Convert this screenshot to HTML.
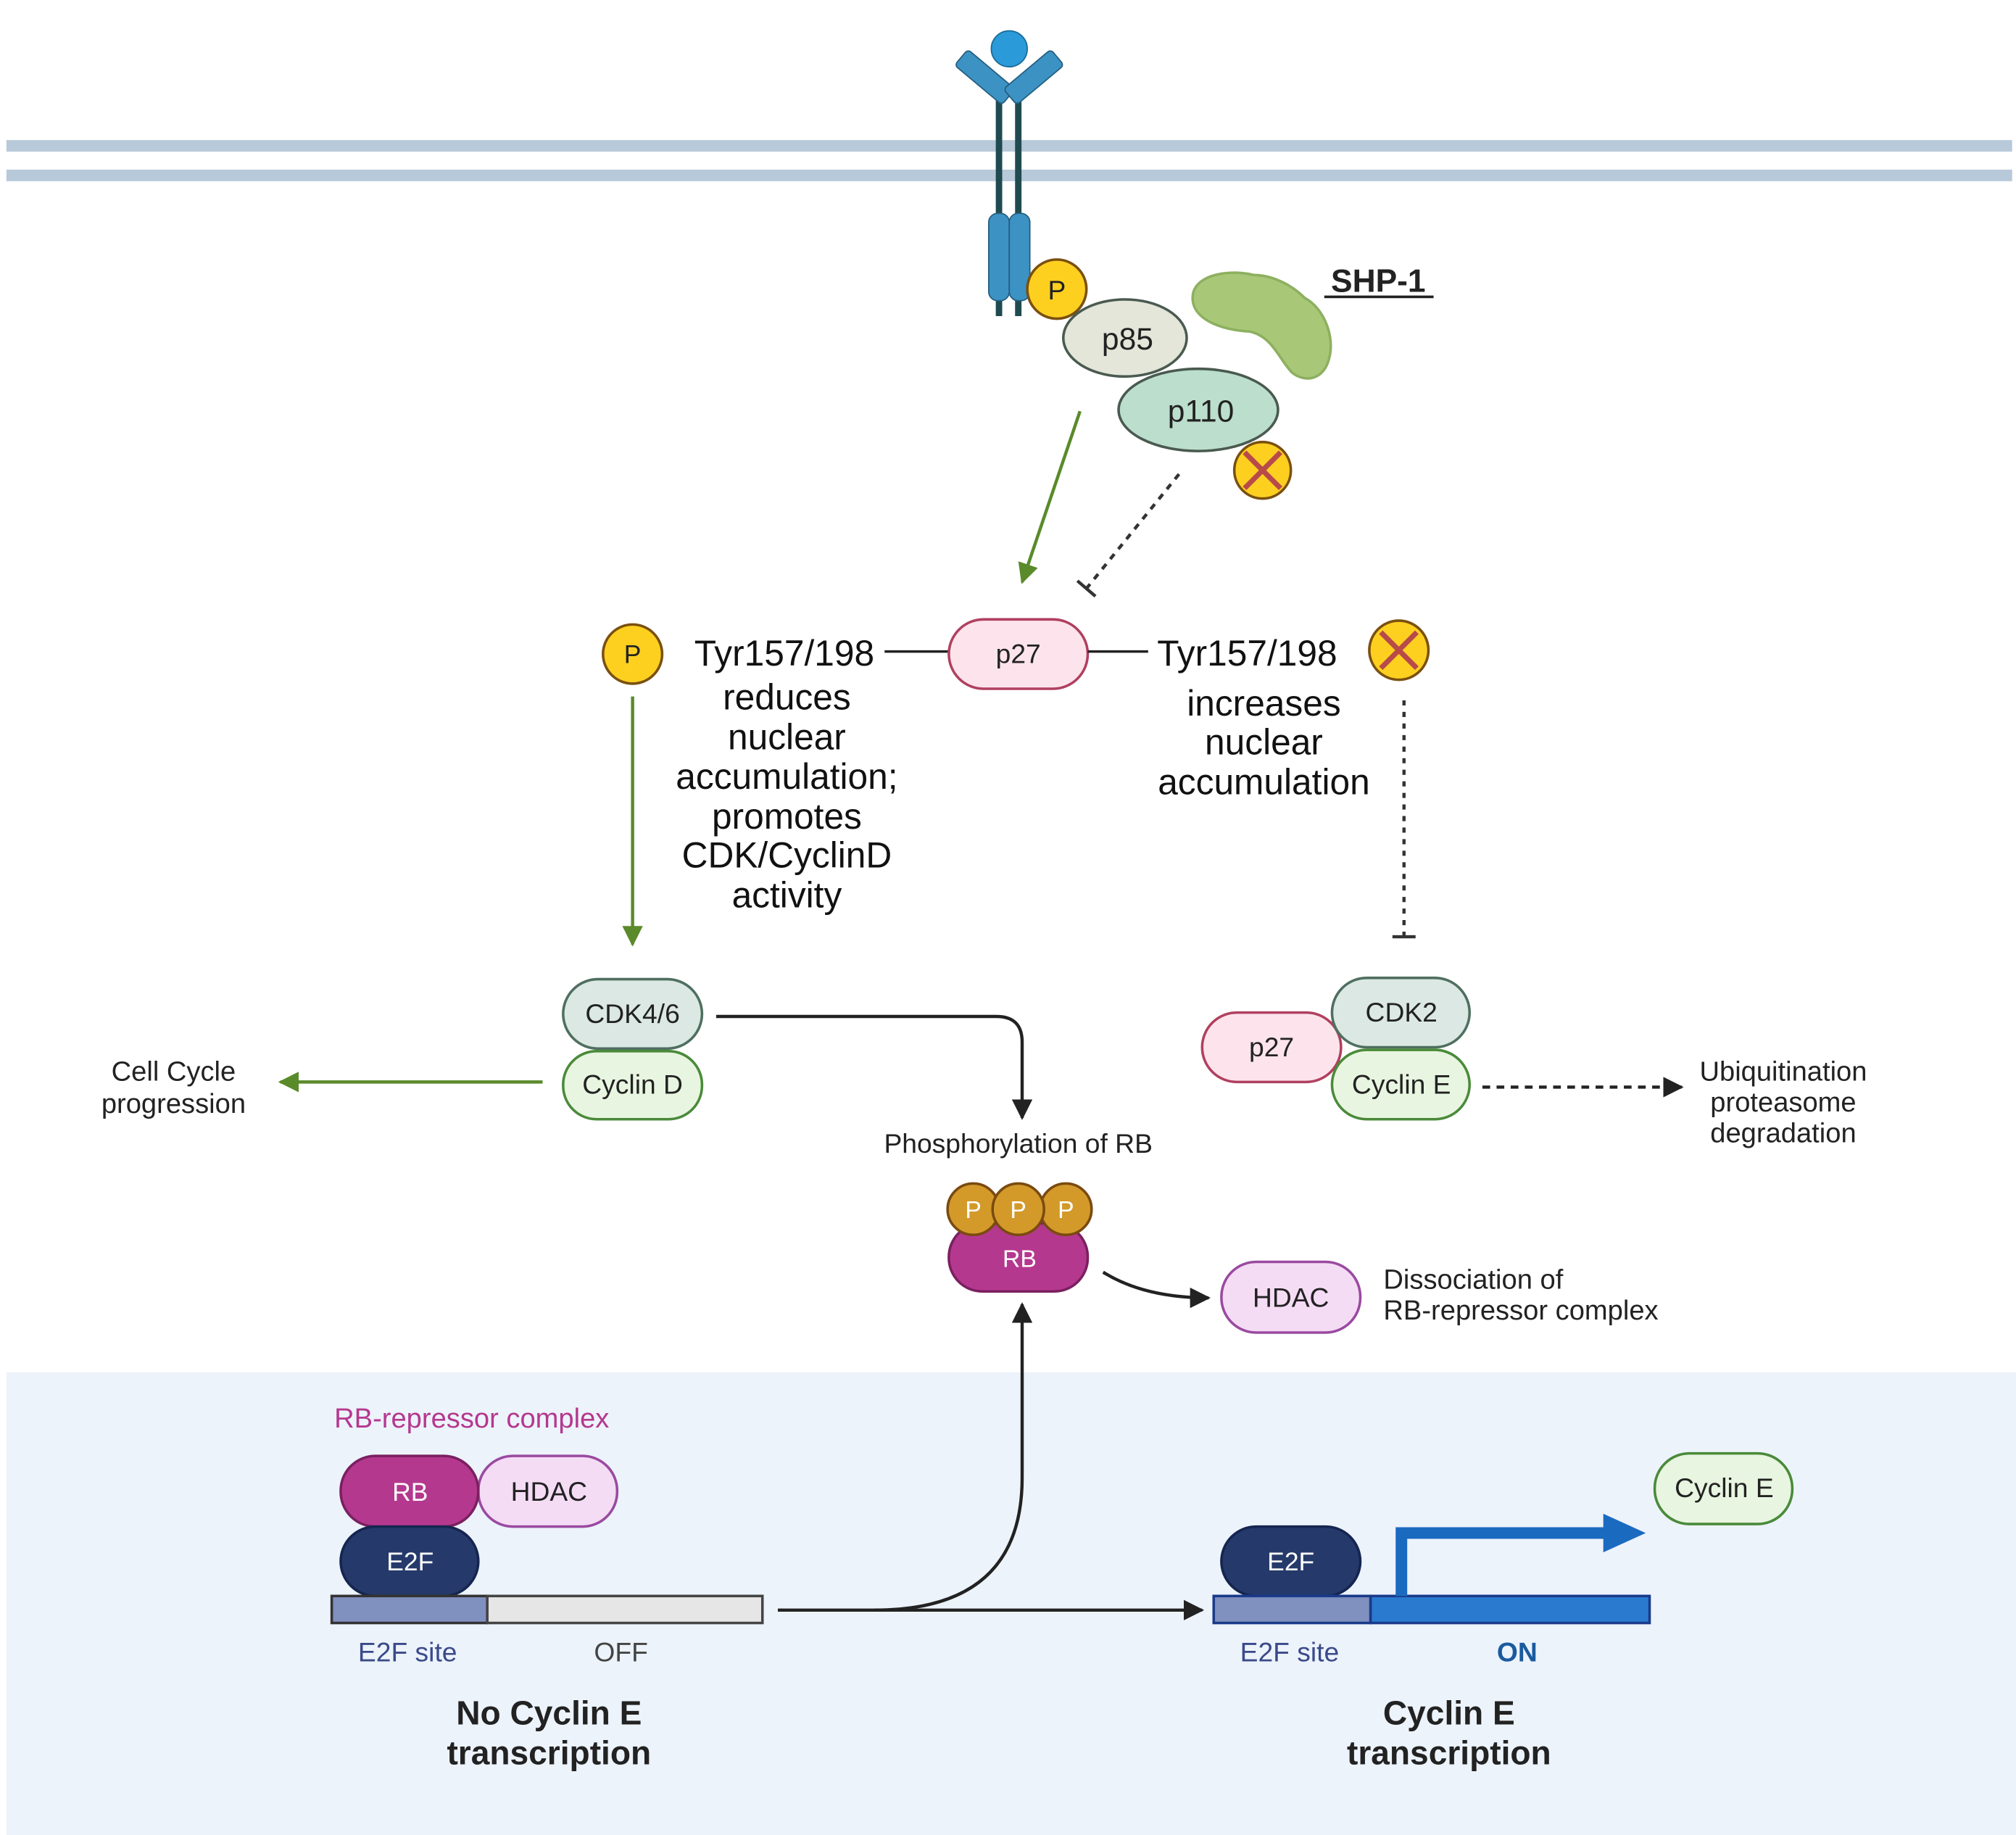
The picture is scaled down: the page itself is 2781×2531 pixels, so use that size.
<!DOCTYPE html>
<html><head><meta charset="utf-8">
<style>
html,body{margin:0;padding:0;background:#fff;}
svg{display:block;}
text{font-family:"Liberation Sans",sans-serif;}
</style></head>
<body>
<svg width="2781" height="2531" viewBox="0 0 1568 1428" preserveAspectRatio="none" xmlns="http://www.w3.org/2000/svg">
<defs>
<marker id="ab" viewBox="0 0 10 10" markerWidth="16" markerHeight="16" refX="9" refY="5" orient="auto" markerUnits="userSpaceOnUse"><path d="M0,0 L10,5 L0,10 z" fill="#222"/></marker>
<marker id="ag" viewBox="0 0 10 10" markerWidth="16" markerHeight="16" refX="9" refY="5" orient="auto" markerUnits="userSpaceOnUse"><path d="M0,0 L10,5 L0,10 z" fill="#5a8a2a"/></marker>
</defs>
<rect width="1568" height="1428" fill="#fff"/>
<rect x="5" y="1068" width="1563" height="360" fill="#ecf3fb"/>
<rect x="5" y="109" width="1560" height="9" fill="#b8c9d9"/>
<rect x="5" y="132" width="1560" height="9" fill="#b8c9d9"/>
<line x1="777" y1="70" x2="777" y2="246" stroke="#1f4a50" stroke-width="5"/>
<line x1="792" y1="70" x2="792" y2="246" stroke="#1f4a50" stroke-width="5"/>
<rect x="742" y="52" width="48" height="16" rx="3" fill="#3d92c4" stroke="#245f80" transform="rotate(40 766 60)"/>
<rect x="780" y="52" width="48" height="16" rx="3" fill="#3d92c4" stroke="#245f80" transform="rotate(-40 804 60)"/>
<circle cx="785" cy="38" r="14" fill="#2a9ad8" stroke="#1b6a98"/>
<rect x="769" y="166" width="16" height="68" rx="7" fill="#3d92c4" stroke="#245f80"/>
<rect x="785" y="166" width="16" height="68" rx="7" fill="#3d92c4" stroke="#245f80"/>
<circle cx="822" cy="225" r="23" fill="#fdd020" stroke="#7a5010" stroke-width="2"/>
<text x="822" y="233" font-size="21" text-anchor="middle" fill="#222">P</text>
<path d="M928,228 C932,212 960,210 975,214 C990,214 1005,222 1015,232 C1030,240 1038,262 1034,278 C1030,296 1015,298 1005,290 C995,280 990,262 972,258 C950,257 924,248 928,228 Z" fill="#a8c878" stroke="#8db060" stroke-width="2"/>
<text x="1072" y="227" font-size="25" font-weight="bold" text-anchor="middle" fill="#222">SHP-1</text>
<line x1="1030" y1="231" x2="1115" y2="231" stroke="#222" stroke-width="2"/>
<ellipse cx="875" cy="263" rx="48" ry="30" fill="#e3e6d9" stroke="#4a5a50" stroke-width="2"/>
<text x="877" y="272" font-size="24" text-anchor="middle" fill="#222">p85</text>
<ellipse cx="932" cy="319" rx="62" ry="32" fill="#bcdecd" stroke="#4a5a50" stroke-width="2"/>
<text x="934" y="328" font-size="24" text-anchor="middle" fill="#222">p110</text>
<circle cx="982" cy="366" r="22" fill="#fdd020" stroke="#7a5010" stroke-width="2"/>
<path d="M968,352 L996,380 M996,352 L968,380" stroke="#b84a4a" stroke-width="4"/>
<line x1="840" y1="320" x2="795" y2="453" stroke="#5a8a2a" stroke-width="2.5" marker-end="url(#ag)"/>
<line x1="917" y1="369" x2="845" y2="458" stroke="#333" stroke-width="2.5" stroke-dasharray="5,5"/>
<line x1="838" y1="452" x2="852" y2="464" stroke="#333" stroke-width="2.5"/>
<circle cx="492" cy="509" r="23" fill="#fdd020" stroke="#7a5010" stroke-width="2"/>
<text x="492" y="516" font-size="20" text-anchor="middle" fill="#222">P</text>
<text x="610" y="518" font-size="28" text-anchor="middle" fill="#111">Tyr157/198</text>
<line x1="688" y1="507" x2="738" y2="507" stroke="#222" stroke-width="2"/>
<rect x="738" y="482" width="108" height="54" rx="27" fill="#fde4ec" stroke="#b04060" stroke-width="2"/>
<text x="792" y="516" font-size="21" text-anchor="middle" fill="#222">p27</text>
<line x1="846" y1="507" x2="893" y2="507" stroke="#222" stroke-width="2"/>
<text x="970" y="518" font-size="28" text-anchor="middle" fill="#111">Tyr157/198</text>
<circle cx="1088" cy="506" r="23" fill="#fdd020" stroke="#7a5010" stroke-width="2"/>
<path d="M1074,492 L1102,520 M1102,492 L1074,520" stroke="#b84a4a" stroke-width="4"/>
<g font-size="28" text-anchor="middle" fill="#111">
<text x="612" y="552">reduces</text><text x="612" y="583">nuclear</text><text x="612" y="614">accumulation;</text>
<text x="612" y="645">promotes</text><text x="612" y="675">CDK/CyclinD</text><text x="612" y="706">activity</text>
<text x="983" y="557">increases</text><text x="983" y="587">nuclear</text><text x="983" y="618">accumulation</text>
</g>
<line x1="492" y1="542" x2="492" y2="735" stroke="#5a8a2a" stroke-width="2.5" marker-end="url(#ag)"/>
<line x1="1092" y1="545" x2="1092" y2="728" stroke="#333" stroke-width="2.5" stroke-dasharray="4,5"/>
<line x1="1083" y1="729" x2="1101" y2="729" stroke="#333" stroke-width="2.5"/>
<rect x="438" y="762" width="108" height="54" rx="27" fill="#dbe8e3" stroke="#4f6f60" stroke-width="2"/>
<text x="492" y="796" font-size="21" text-anchor="middle" fill="#222">CDK4/6</text>
<rect x="438" y="818" width="108" height="53" rx="26" fill="#e8f5e0" stroke="#4a8a3a" stroke-width="2"/>
<text x="492" y="851" font-size="21" text-anchor="middle" fill="#222">Cyclin D</text>
<line x1="422" y1="842" x2="218" y2="842" stroke="#5a8a2a" stroke-width="2.5" marker-end="url(#ag)"/>
<text x="135" y="841" font-size="21.5" text-anchor="middle" fill="#222">Cell Cycle</text>
<text x="135" y="866" font-size="21.5" text-anchor="middle" fill="#222">progression</text>
<path d="M557,791 L775,791 Q795,791 795,811 L795,870" fill="none" stroke="#222" stroke-width="2.5" marker-end="url(#ab)"/>
<text x="792" y="897" font-size="21" text-anchor="middle" fill="#222">Phosphorylation of RB</text>
<rect x="738" y="952" width="108" height="53" rx="26" fill="#b5388f" stroke="#7a2060" stroke-width="2"/>
<text x="793" y="986" font-size="19" text-anchor="middle" fill="#fff">RB</text>
<g fill="#d39a2a" stroke="#7a4a10" stroke-width="2">
<circle cx="757" cy="941" r="20"/><circle cx="829" cy="941" r="20"/><circle cx="792" cy="941" r="20"/></g>
<g font-size="19" text-anchor="middle" fill="#fff"><text x="757" y="948">P</text><text x="792" y="948">P</text><text x="829" y="948">P</text></g>
<path d="M858,990 Q890,1010 940,1010" fill="none" stroke="#222" stroke-width="2.5" marker-end="url(#ab)"/>
<rect x="950" y="982" width="108" height="55" rx="27" fill="#f5dcf5" stroke="#9a4aa0" stroke-width="2"/>
<text x="1004" y="1017" font-size="21" text-anchor="middle" fill="#222">HDAC</text>
<text x="1076" y="1003" font-size="21.5" fill="#222">Dissociation of</text>
<text x="1076" y="1027" font-size="21.5" fill="#222">RB-repressor complex</text>
<rect x="935" y="788" width="108" height="54" rx="27" fill="#fde4ec" stroke="#b04060" stroke-width="2"/>
<text x="989" y="822" font-size="21" text-anchor="middle" fill="#222">p27</text>
<rect x="1036" y="761" width="107" height="54" rx="27" fill="#dbe8e3" stroke="#4f6f60" stroke-width="2"/>
<text x="1090" y="795" font-size="21" text-anchor="middle" fill="#222">CDK2</text>
<rect x="1036" y="817" width="107" height="54" rx="27" fill="#e8f5e0" stroke="#4a8a3a" stroke-width="2"/>
<text x="1090" y="851" font-size="21" text-anchor="middle" fill="#222">Cyclin E</text>
<line x1="1153" y1="846" x2="1308" y2="846" stroke="#222" stroke-width="2.5" stroke-dasharray="6,5" marker-end="url(#ab)"/>
<g font-size="21.5" text-anchor="middle" fill="#222"><text x="1387" y="841">Ubiquitination</text><text x="1387" y="865">proteasome</text><text x="1387" y="889">degradation</text></g>
<text x="260" y="1111" font-size="21.5" fill="#b5388f">RB-repressor complex</text>
<rect x="372" y="1133" width="108" height="55" rx="27" fill="#f5dcf5" stroke="#9a4aa0" stroke-width="2"/>
<text x="427" y="1168" font-size="21" text-anchor="middle" fill="#222">HDAC</text>
<rect x="265" y="1133" width="107" height="55" rx="27" fill="#b5388f" stroke="#7a2060" stroke-width="2"/>
<text x="319" y="1168" font-size="20" text-anchor="middle" fill="#fff">RB</text>
<rect x="265" y="1188" width="107" height="54" rx="27" fill="#253a6a" stroke="#152550" stroke-width="2"/>
<text x="319" y="1222" font-size="20" text-anchor="middle" fill="#fff">E2F</text>
<rect x="258" y="1242" width="121" height="21" fill="#8090bf" stroke="#333" stroke-width="2"/>
<rect x="379" y="1242" width="214" height="21" fill="#e6e6e6" stroke="#444" stroke-width="2"/>
<text x="317" y="1293" font-size="21" text-anchor="middle" fill="#3a4a8a">E2F site</text>
<text x="483" y="1293" font-size="21" text-anchor="middle" fill="#444">OFF</text>
<text x="427" y="1342" font-size="26" font-weight="bold" text-anchor="middle" fill="#222">No Cyclin E</text>
<text x="427" y="1373" font-size="26" font-weight="bold" text-anchor="middle" fill="#222">transcription</text>
<line x1="605" y1="1253" x2="935" y2="1253" stroke="#222" stroke-width="2.5" marker-end="url(#ab)"/>
<path d="M680,1253 Q795,1253 795,1150 L795,1015" fill="none" stroke="#222" stroke-width="2.5" marker-end="url(#ab)"/>
<rect x="950" y="1188" width="108" height="54" rx="27" fill="#253a6a" stroke="#152550" stroke-width="2"/>
<text x="1004" y="1222" font-size="20" text-anchor="middle" fill="#fff">E2F</text>
<rect x="944" y="1242" width="122" height="21" fill="#8090bf" stroke="#1a3a8a" stroke-width="2"/>
<rect x="1066" y="1242" width="217" height="21" fill="#2a7ad0" stroke="#1a3a8a" stroke-width="2"/>
<path d="M1090,1242 L1090,1193 L1250,1193" fill="none" stroke="#1a6ac0" stroke-width="9"/>
<path d="M1247,1178 L1280,1193 L1247,1208 Z" fill="#1a6ac0"/>
<rect x="1287" y="1131" width="107" height="55" rx="27" fill="#e8f5e0" stroke="#4a8a3a" stroke-width="2"/>
<text x="1341" y="1165" font-size="21" text-anchor="middle" fill="#222">Cyclin E</text>
<text x="1003" y="1293" font-size="21" text-anchor="middle" fill="#3a4a8a">E2F site</text>
<text x="1180" y="1293" font-size="21" font-weight="bold" text-anchor="middle" fill="#1a5aa0">ON</text>
<text x="1127" y="1342" font-size="26" font-weight="bold" text-anchor="middle" fill="#222">Cyclin E</text>
<text x="1127" y="1373" font-size="26" font-weight="bold" text-anchor="middle" fill="#222">transcription</text>
</svg>
</body></html>
